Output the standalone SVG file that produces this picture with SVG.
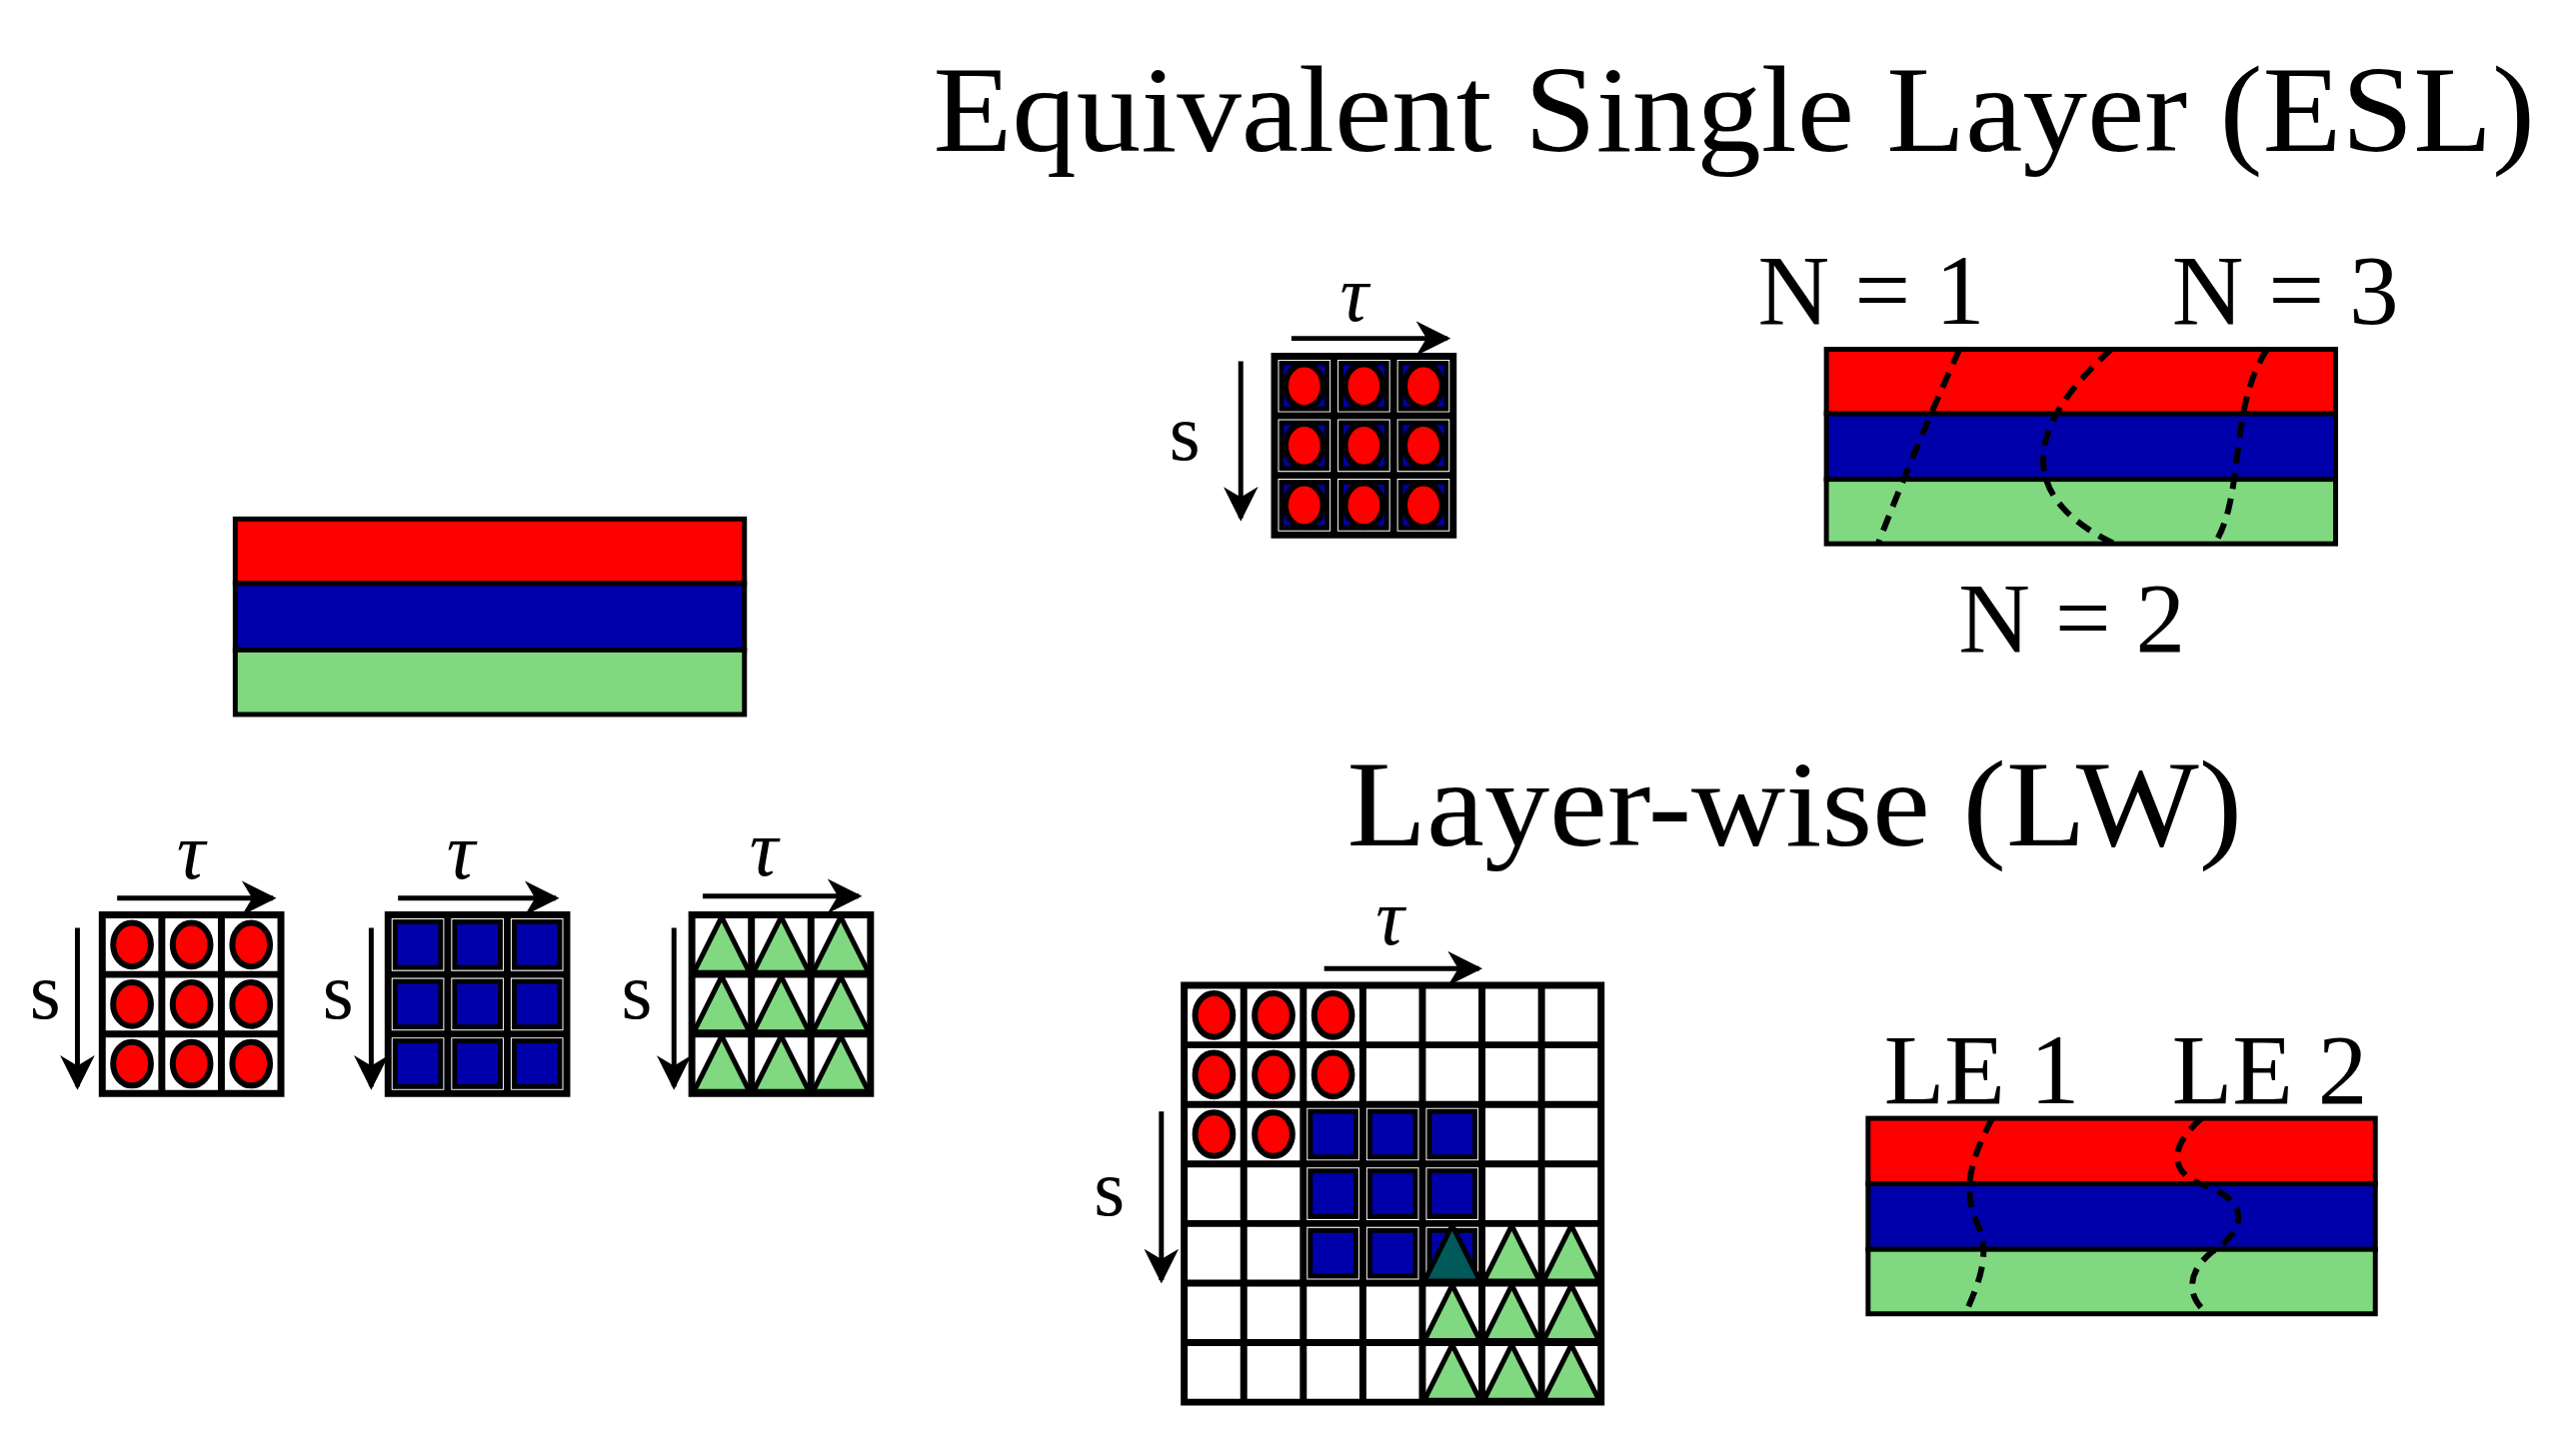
<svg xmlns="http://www.w3.org/2000/svg" width="2577" height="1457" viewBox="0 0 2577 1457">
<style>
.t{font-family:"Liberation Serif","DejaVu Serif",serif;fill:#000}
.ttl{font-size:124px}
.lbl{font-size:100px}
.gk{font-size:80px;font-style:italic}
.sv{font-size:80px}
.ln{stroke:#000;stroke-width:7;fill:none}
.ar{stroke:#000;stroke-width:5;fill:none;marker-end:url(#ah)}
.dash{stroke:#000;stroke-width:6;fill:none;stroke-dasharray:16 10}
.lay{stroke:#000;stroke-width:5}
</style>
<defs>
<marker id="ah" viewBox="0 0 10 10" refX="9" refY="5" markerWidth="7" markerHeight="7" orient="auto" markerUnits="strokeWidth"><path d="M0,0 L10,5 L0,10 L3,5 z" fill="#000"/></marker>
<g id="rc"><ellipse cx="30" cy="30" rx="19" ry="22" fill="#ff0000" stroke="#000" stroke-width="6"/></g>
<g id="bc"><rect x="7" y="7" width="46" height="46" fill="#0000aa" stroke="#000" stroke-width="5"/></g>
<g id="gc"><polygon points="30,2 58,58 2,58" fill="#80d880" stroke="#000" stroke-width="5"/></g>
<path id="g3" d="M0,0H180V180H0Z M60,0V180 M120,0V180 M0,60H180 M0,120H180" class="ln"/>
</defs>
<rect width="2577" height="1457" fill="#fff"/>
<g transform="scale(0.993)">
<g id="title-esl"><text class="t ttl" x="940" y="152" textLength="1614" lengthAdjust="spacingAndGlyphs">Equivalent Single Layer (ESL)</text></g>
<g id="title-lw"><text class="t ttl" x="1357" y="852" textLength="902" lengthAdjust="spacingAndGlyphs">Layer-wise (LW)</text></g>

<g id="left-layers">
<rect x="237" y="523" width="513" height="65" fill="#ff0000" class="lay"/>
<rect x="237" y="588" width="513" height="67" fill="#0000aa" class="lay"/>
<rect x="237" y="655" width="513" height="65" fill="#80d880" class="lay"/>
</g>

<g id="grid-red">
<use href="#rc" x="103" y="922"/><use href="#rc" x="163" y="922"/><use href="#rc" x="223" y="922"/>
<use href="#rc" x="103" y="982"/><use href="#rc" x="163" y="982"/><use href="#rc" x="223" y="982"/>
<use href="#rc" x="103" y="1042"/><use href="#rc" x="163" y="1042"/><use href="#rc" x="223" y="1042"/>
<use href="#g3" x="103" y="922"/>
<text class="t gk" x="178" y="885">τ</text><text class="t sv" x="30" y="1026">s</text>
</g>
<g id="grid-blue">
<use href="#bc" x="391" y="922"/><use href="#bc" x="451" y="922"/><use href="#bc" x="511" y="922"/>
<use href="#bc" x="391" y="982"/><use href="#bc" x="451" y="982"/><use href="#bc" x="511" y="982"/>
<use href="#bc" x="391" y="1042"/><use href="#bc" x="451" y="1042"/><use href="#bc" x="511" y="1042"/>
<use href="#g3" x="391" y="922"/>
<text class="t gk" x="450" y="885">τ</text><text class="t sv" x="325" y="1026">s</text>
</g>
<g id="grid-green">
<use href="#gc" x="697" y="922"/><use href="#gc" x="757" y="922"/><use href="#gc" x="817" y="922"/>
<use href="#gc" x="697" y="982"/><use href="#gc" x="757" y="982"/><use href="#gc" x="817" y="982"/>
<use href="#gc" x="697" y="1042"/><use href="#gc" x="757" y="1042"/><use href="#gc" x="817" y="1042"/>
<use href="#g3" x="697" y="922"/>
<text class="t gk" x="755" y="882">τ</text><text class="t sv" x="626" y="1026">s</text>
</g>

<g id="esl-grid">
<use href="#bc" x="1284" y="359"/><use href="#bc" x="1344" y="359"/><use href="#bc" x="1404" y="359"/>
<use href="#bc" x="1284" y="419"/><use href="#bc" x="1344" y="419"/><use href="#bc" x="1404" y="419"/>
<use href="#bc" x="1284" y="479"/><use href="#bc" x="1344" y="479"/><use href="#bc" x="1404" y="479"/>
<use href="#rc" x="1284" y="359"/><use href="#rc" x="1344" y="359"/><use href="#rc" x="1404" y="359"/>
<use href="#rc" x="1284" y="419"/><use href="#rc" x="1344" y="419"/><use href="#rc" x="1404" y="419"/>
<use href="#rc" x="1284" y="479"/><use href="#rc" x="1344" y="479"/><use href="#rc" x="1404" y="479"/>
<use href="#g3" x="1284" y="359"/>
<text class="t gk" x="1350" y="323">τ</text><text class="t sv" x="1178" y="463">s</text>
</g>

<g id="esl-layers">
<rect x="1840" y="352" width="513" height="65" fill="#ff0000" class="lay"/>
<rect x="1840" y="417" width="513" height="66" fill="#0000aa" class="lay"/>
<rect x="1840" y="483" width="513" height="65" fill="#80d880" class="lay"/>
<text class="t lbl" x="1771" y="326">N = 1</text>
<text class="t lbl" x="2188" y="326">N = 3</text>
<text class="t lbl" x="1973" y="657">N = 2</text>
</g>

<g id="lw-grid">
<use href="#rc" x="1193" y="993"/><use href="#rc" x="1253" y="993"/><use href="#rc" x="1313" y="993"/>
<use href="#rc" x="1193" y="1053"/><use href="#rc" x="1253" y="1053"/><use href="#rc" x="1313" y="1053"/>
<use href="#rc" x="1193" y="1113"/><use href="#rc" x="1253" y="1113"/>
<use href="#bc" x="1313" y="1113"/><use href="#bc" x="1373" y="1113"/><use href="#bc" x="1433" y="1113"/>
<use href="#bc" x="1313" y="1173"/><use href="#bc" x="1373" y="1173"/><use href="#bc" x="1433" y="1173"/>
<use href="#bc" x="1313" y="1233"/><use href="#bc" x="1373" y="1233"/><use href="#bc" x="1433" y="1233"/>
<polygon points="1463,1235 1491,1291 1435,1291" fill="#005a5a" stroke="#000" stroke-width="5"/>
<use href="#gc" x="1493" y="1233"/><use href="#gc" x="1553" y="1233"/>
<use href="#gc" x="1433" y="1293"/><use href="#gc" x="1493" y="1293"/><use href="#gc" x="1553" y="1293"/>
<use href="#gc" x="1433" y="1353"/><use href="#gc" x="1493" y="1353"/><use href="#gc" x="1553" y="1353"/>
<path class="ln" d="M1193,993H1613V1413H1193Z M1253,993V1413 M1313,993V1413 M1373,993V1413 M1433,993V1413 M1493,993V1413 M1553,993V1413 M1193,1053H1613 M1193,1113H1613 M1193,1173H1613 M1193,1233H1613 M1193,1293H1613 M1193,1353H1613"/>
<text class="t gk" x="1386" y="952">τ</text><text class="t sv" x="1102" y="1225">s</text>
</g>

<g id="lw-layers">
<rect x="1882" y="1127" width="511" height="66" fill="#ff0000" class="lay"/>
<rect x="1882" y="1193" width="511" height="66" fill="#0000aa" class="lay"/>
<rect x="1882" y="1259" width="511" height="65" fill="#80d880" class="lay"/>
<text class="t lbl" x="1898" y="1112">LE 1</text>
<text class="t lbl" x="2188" y="1112">LE 2</text>
</g>

<g id="connectors">
<line class="ar" x1="118" y1="905" x2="275" y2="905"/>
<line class="ar" x1="78" y1="935" x2="78" y2="1095"/>
<line class="ar" x1="401" y1="905" x2="560" y2="905"/>
<line class="ar" x1="374" y1="935" x2="374" y2="1095"/>
<line class="ar" x1="708" y1="903" x2="865" y2="903"/>
<line class="ar" x1="679" y1="935" x2="679" y2="1095"/>
<line class="ar" x1="1301" y1="341" x2="1458" y2="341"/>
<line class="ar" x1="1250" y1="364" x2="1250" y2="522"/>
<line class="ar" x1="1334" y1="976" x2="1490" y2="976"/>
<line class="ar" x1="1170" y1="1120" x2="1170" y2="1290"/>
<path class="dash" d="M1974,352 Q1930,450 1892,548"/>
<path class="dash" d="M2127,352 C2040,430 2030,500 2130,548"/>
<path class="dash" d="M2284,352 C2245,410 2262,500 2231,548"/>
<path class="dash" d="M2007,1127 C1985,1170 1975,1200 1995,1240 C2005,1270 1990,1300 1980,1324"/>
<path class="dash" d="M2218,1127 C2180,1160 2190,1185 2222,1195 C2275,1215 2255,1245 2228,1262 C2200,1285 2205,1310 2225,1324"/>
</g>
</g>
</svg>
